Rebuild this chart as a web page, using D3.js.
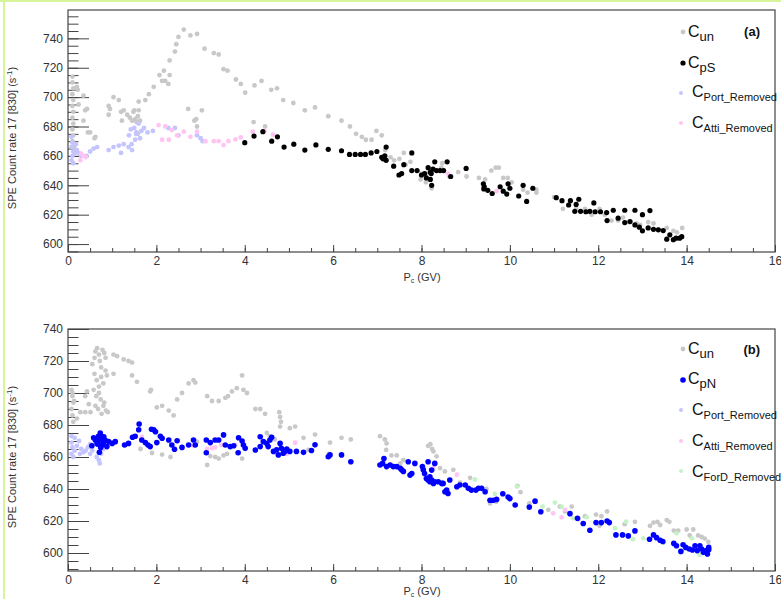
<!DOCTYPE html>
<html>
<head>
<meta charset="utf-8">
<script src="https://cdn.jsdelivr.net/npm/d3@7"></script>
<style>
  body { margin: 0; background: #fff; }
  svg { display: block; font-family: "Liberation Sans", Arial, sans-serif; }
</style>
</head>
<body>
<svg width="781" height="599"></svg>
<script>
// panel (a) : [Pc (GV), count rate]
const unA = [[0.1,714],[0.1,710],[0.12,706],[0.1,702],[0.12,698],[0.1,694],[0.12,690],[0.1,686],[0.12,682],[0.1,678],[0.12,674],[0.1,670],[0.14,666],
  [0.2,707],[0.22,705],[0.24,695],[0.35,701],[0.39,691],[0.43,692],[0.35,684],[0.45,676],[0.5,676],[0.6,672],[0.62,673],
  [0.92,694],[0.95,692],[0.92,688],[1.03,700],[1.15,698],[1.2,690],[1.26,691],[1.22,684],
  [1.34,688],[1.4,686],[1.45,684],[1.48,690],[1.52,685],[1.55,683],[1.58,687],[1.6,691],[1.6,697],[1.5,691],[1.63,684],[1.58,675],
  [1.75,698],[1.83,702],[1.94,707],[2.07,715],[2.17,718],[2.13,711],[2.2,711],[2.27,709],[2.3,715],[2.3,725],[2.42,731],[2.45,736],[2.5,741],[2.62,746],[2.77,742],[2.92,743],[3.09,733],[3.3,730],[3.41,729],[3.52,719],[3.61,718],[3.8,712],[3.91,709],[4.01,703],[4.22,708],[4.38,711],
  [2.72,692],[3.03,691],[2.9,685],[2.86,684],[2.92,680],[4.2,683],[4.46,680],
  [4.6,705],[4.73,706],[4.87,698],[5.1,696],[5.36,691],[5.59,693],[5.89,687],[6.19,684],[6.38,680],[6.52,675],[6.65,673],[6.74,671],[6.87,671],[6.98,677],[7.1,674],[7.18,664],[7.3,659],[7.38,657],[7.5,658],[7.6,662],[7.75,656],[7.64,654],[7.98,644],[8.1,642],[8.23,638],[8.0,648],[8.12,648],[8.45,652],[8.47,655],[8.63,646],[8.83,649],[9.02,646],[9.3,645],[9.44,644],[9.58,650],[9.68,652],[9.75,652],[9.85,645],[9.95,645],
  [10.04,642],[10.3,637],[10.4,635],[10.6,637],[10.6,635],[11.0,632],[11.2,624],[11.5,624],[11.7,624],[11.85,620],[12.03,624],[12.15,620],[12.3,616],[12.45,616],[12.56,618],[12.68,615],[12.87,614],[12.95,613],[13.13,615],[13.25,614],[13.36,610],[13.55,611],[13.7,609],[13.78,608],[13.9,611]];
const pSA = [[4.0,669],[4.21,673.5],[4.41,676.5],[4.61,670],[4.74,673],[4.89,666],[5.11,668],[5.36,664],[5.61,667.5],[5.89,664.5],[6.19,663.5],[6.37,661],[6.5,661],[6.62,661],[6.73,661],[6.86,662],[6.99,663],[7.2,666],[7.1,659],[7.13,658],[7.2,657],[7.17,660],[7.37,653],[7.49,647],[7.6,654],[7.55,648],[7.78,662],[7.78,650],[7.9,650],
  [8.0,647],[8.07,648],[8.11,645],[8.15,652],[8.2,649],[8.22,648],[8.26,651],[8.3,656],[8.34,650],[8.42,650],[8.5,650],[8.58,656],[8.66,646],[8.2,644],[8.23,640],[9.01,651.5],
  [9.4,641],[9.42,639],[9.41,637.5],[9.5,636.6],[9.6,634.4],[9.78,639],[9.85,636],[9.93,634],[9.96,641],[10.0,638],
  [10.2,632.7],[10.3,640],[10.38,629],[10.52,638],[11.05,631.6],[11.18,629.5],[11.37,629.5],[11.33,626.6],[11.5,627],[11.56,630.5],[11.47,622.3],[11.6,622.3],[11.72,622],[11.81,622.3],[11.93,622],[12.05,622],[12.19,621.4],[11.9,628],
  [12.2,616],[12.34,623],[12.45,617.6],[12.6,614.6],[12.6,623],[12.72,615.3],[12.83,623],[12.83,613],[13.0,620],[12.93,611.5],[13.0,609],[13.17,622.8],[13.13,611],[13.25,610],[13.36,609.7],[13.47,609.2],[13.55,603.3],[13.62,606.3],[13.7,603],[13.76,604],[13.84,604],[13.89,605]];
const portA = [[0.08,673],[0.1,669],[0.08,666],[0.12,663],[0.1,660],[0.08,657],[0.12,655],[0.15,662],[0.2,664],[0.18,668],
  [0.24,662],[0.3,660],[0.42,660],[0.5,663],[0.58,665],[0.66,666],
  [0.92,664],[1.03,666],[1.15,667],[1.2,662],[1.26,668],[1.37,666],[1.44,668],[1.45,664],[1.52,671],[1.55,676],[1.6,682],[1.63,672],[1.66,677],[1.72,679],[1.8,676],[1.42,678],[1.5,679],[1.54,675],[1.38,674],[1.92,677],[2.27,679],[2.42,679],[2.5,674],[2.92,674],[3.0,672],[3.05,670]];
const attiA = [[0.3,661.5],[0.35,660],[0.28,657],[0.4,659],[2.05,681],[2.2,680],[2.13,671],[2.28,671],[2.35,677.6],[2.47,674],[2.62,676.5],[2.77,673],[2.92,676.5],[3.11,670],[3.3,670],[3.41,670],[3.52,667.4],[3.63,670],[3.79,671.3],[3.91,672.6],[4.18,676.5],[4.45,677],[4.64,674.5],[8.6,648],[9.7,636]];

// panel (b)
const unB = [[0.08,702],[0.1,698],[0.12,694],[0.08,690],[0.1,686],[0.12,682],[0.14,695],[0.1,700],
  [0.2,684],[0.28,688],[0.39,698],[0.43,701],[0.47,693],[0.51,688],[0.39,688],
  [0.55,718],[0.6,722],[0.62,726],[0.66,728],[0.7,724],[0.72,720],[0.75,716],[0.78,727],[0.82,725],[0.85,722],[0.6,712],[0.65,708],[0.7,704],[0.75,710],[0.8,706],[0.85,714],[0.88,711],[0.58,702],[0.64,698],[0.7,700],[0.74,696],[0.8,692],[0.86,689],[0.9,688],[0.62,692],[0.68,690],[0.76,687],[0.82,694],
  [1.03,724],[1.11,723],[1.26,721],[1.37,720],[1.45,719],[1.03,712],[1.45,711],[1.56,707],[1.86,701],[1.88,702],[2.01,691],[2.13,692],[2.28,689],[2.39,686],[2.32,660],[1.9,662.5],[2.13,661.5],[1.64,665],[2.47,696],[2.58,700],[2.73,706],[2.84,708],[2.88,706.5],[2.92,669.6],
  [3.15,698],[3.26,695],[3.41,695],[3.56,697],[3.62,698],[3.71,701],[3.82,703],[3.94,711],[3.97,702],[4.05,700],[3.15,655],[3.22,660.6],[3.33,660],[3.41,659],[3.52,661],[3.6,662],[3.94,659],[3.86,662.5],[4.24,690],[4.35,690],
  [4.46,687],[4.78,688],[4.8,685],[4.82,682],[4.8,679],[4.5,675],[4.57,673],[4.68,671],[5.02,678],[5.14,679],[5.33,672],[5.59,674],[5.44,664.5],[5.93,669],[6.19,672],[6.4,671],[5.9,662],
  [7.06,673],[7.17,671],[7.21,668.5],[7.2,664.4],[7.32,661],[7.44,661],[7.52,656],[7.59,658],
  [8.04,653],[8.15,667],[8.2,668],[8.24,665],[8.27,663.5],[8.34,660.4],[8.42,653],[8.53,651],[8.72,652],[8.87,644],[9.1,647],
  [9.47,640],[9.55,631],[9.69,632],
  [10.17,642],[10.24,638],[10.44,631],[10.87,627],[11.13,629],[11.25,626],[11.4,629],[11.55,621],[11.7,623],[11.95,624],[12.03,617],[12.07,623],[12.2,626],[12.6,618],[12.83,619.5],[13.17,617],[13.25,619],[13.34,619.5],[13.4,617.5],[13.55,620.6],[13.61,619.5],[13.71,614],[13.81,614],[14.0,614.7],[14.07,611],[14.15,614.7],[14.26,611],[14.34,610],[14.41,609],[14.49,607]];
const pNB = [[0.54,667],[0.58,672],[0.66,668.5],[0.69,673],[0.73,675],[0.75,670.6],[0.78,667.5],[0.81,672.7],[0.84,670.6],[0.71,663],[0.62,670.6],[0.88,666.5],[0.92,669.6],[1.0,668.5],[1.07,669.6],[0.7,671],[0.76,673],[0.8,669],[0.74,666],[0.68,668],
  [1.28,667.5],[1.37,668.5],[1.46,672.3],[1.52,673],[1.6,677],[1.61,680.6],[1.67,670.6],[1.75,669],[1.81,667.5],[1.89,677.3],[1.94,677],[1.86,666.5],[1.98,675.8],[2.01,669],[2.09,673],[2.13,671.7],[2.28,670.6],[2.35,667.5],[2.41,664.8],[2.47,670.2],[2.58,666],[2.73,667.5],[2.84,670.6],[2.88,667.5],
  [3.13,670.6],[3.13,662.7],[3.22,669],[3.33,670.6],[3.41,670.6],[3.52,673.8],[3.56,667.5],[3.67,666.5],[3.75,667],[3.85,662.7],[3.86,672],[3.94,670],[3.97,667.5],[4.01,665.4],[4.24,664.4],[4.35,672.7],[4.35,666.5],
  [4.42,669.6],[4.5,668.5],[4.53,666.5],[4.57,670.6],[4.61,672.3],[4.65,663.5],[4.72,664.5],[4.76,661.3],[4.8,668.5],[4.83,665.4],[4.87,662.3],[4.91,663.5],[4.95,664.9],[5.02,663.5],[5.17,663.5],[5.33,662.9],[5.51,664.1],[5.59,667.6],[5.89,660.2],[5.93,661.3],[6.19,661.3],[6.4,657],
  [7.06,655],[7.12,656],[7.15,659],[7.21,654],[7.29,655],[7.36,654],[7.44,654],[7.52,653],[7.55,652],[7.59,651],[7.7,657],[7.74,648.7],[7.78,649.7],[7.85,656],[8.02,654],[8.04,652],[8.15,657],[8.3,656],
  [8.07,649.7],[8.11,646.6],[8.15,645.6],[8.19,644.5],[8.23,651.8],[8.19,647.7],[8.23,645.6],[8.27,643.5],[8.3,644.5],[8.38,644.5],[8.46,643.5],[8.49,643.5],[8.53,638.3],[8.57,639.3],[8.6,637.2],[8.64,645.6],
  [8.8,641.4],[8.87,642.5],[8.99,642.5],[9.06,640.4],[9.13,639.3],[9.23,639.3],[9.29,640.4],[9.36,640.4],[9.44,638.3],[9.55,633],
  [9.62,633],[9.7,633.5],[9.84,637],[9.96,635],[10.0,634],[10.12,630],[10.44,628.7],[10.57,632.4],[10.7,625.8],
  [11.36,624.6],[11.53,621.7],[11.66,618.4],[11.81,614.2],[11.95,619],[12.07,619],[12.2,620],[12.25,619],[12.4,611.3],[12.55,611.3],[12.68,610.7],[12.83,613.8],[13.16,608.6],[13.25,611.3],[13.32,609.6],[13.4,608],[13.46,607.2],[13.71,606],[13.77,604.5],[13.87,601],[13.92,605.2],[13.98,603.5],[14.06,602.5],[14.13,601.9],[14.19,604.5],[14.24,601.5],[14.3,604.5],[14.34,602.5],[14.38,600.4],[14.44,601.5],[14.47,599.4],[14.5,602],[14.5,603.5]];
const portB = [[0.08,673],[0.08,669],[0.1,666],[0.08,662],[0.12,660],[0.15,664],[0.2,667],[0.27,662],[0.3,665],[0.35,663],[0.4,664],[0.45,666],[0.5,662],[0.55,664],[0.6,668],[0.65,660],[0.7,658],[0.72,656],[0.75,662],[0.8,665],[0.62,671],[0.5,668],[0.25,670],[0.15,672]];
const attiB = [[1.67,672.5],[2.13,671.7],[2.84,667],[3.15,665],[3.26,665.5],[3.33,666],[3.47,667.5],[3.79,667.5],[4.95,661.9],[5.14,668.9],[8.27,653],[8.8,648.9],[10.98,624.8],[11.17,622.3],[11.25,627]];
const fordB = [[9.21,646],[9.66,636.9],[10.16,641.5],[10.74,629],[11.02,631.5],[11.17,629],[11.43,621.7],[11.74,622.4],[12.38,615.5],[12.63,619.6],[12.79,608.6],[13.02,609.2],[13.49,606.5],[13.77,612.3],[14.12,609.2],[14.3,598.8]];

const xTicks = d3.range(0, 17, 2);
const xMinor = d3.range(0, 16.01, 0.5);

const svg = d3.select("svg");

// bordure verte
svg.append("line").attr("x1", 4).attr("x2", 4).attr("y1", 0).attr("y2", 599)
  .attr("stroke", "#d6f59a").attr("stroke-width", 2);
svg.append("line").attr("x1", 0).attr("x2", 781).attr("y1", 1).attr("y2", 1)
  .attr("stroke", "#d6f59a").attr("stroke-width", 2);

const x = d3.scaleLinear().domain([0, 16]).range([68, 775]);

function panel(p) {
  const y = d3.scaleLinear().domain(p.yDomain).range([p.bottom, p.top]);
  const g = svg.append("g");

  // ticks mineurs
  g.append("g").attr("transform", "translate(68,0)")
    .call(d3.axisLeft(y).tickValues(p.yMinor).tickSize(-10.5).tickFormat(""));
  g.append("g").attr("transform", `translate(0,${p.bottom})`)
    .call(d3.axisBottom(x).tickValues(xMinor).tickSize(-4).tickFormat(""));
  // ticks majeurs
  g.append("g").attr("transform", "translate(68,0)")
    .call(d3.axisLeft(y).tickValues(p.yTicks).tickSize(-21).tickPadding(5));
  g.append("g").attr("transform", `translate(0,${p.bottom})`)
    .call(d3.axisBottom(x).tickValues(xTicks).tickSize(-7).tickPadding(4));

  g.selectAll(".domain").remove();
  g.selectAll(".tick line").attr("stroke", "#444");
  g.selectAll(".tick text").attr("font-size", 12).attr("fill", "#333")
    .attr("font-family", "Liberation Sans, Arial, sans-serif");

  g.append("rect").attr("x", 68).attr("y", p.top)
    .attr("width", 775 - 68).attr("height", p.bottom - p.top)
    .attr("fill", "none").attr("stroke", "#444").attr("stroke-width", 1.2);

  // points
  p.series.forEach(s => {
    g.append("g").selectAll("circle")
      .data(s.data).enter().append("circle")
      .attr("cx", d => x(d[0]))
      .attr("cy", d => y(d[1]))
      .attr("r", s.r)
      .attr("fill", s.color);
  });

  // titre axe y
  const yt = g.append("text")
    .attr("transform", `translate(16,${(p.top + p.bottom) / 2 + 7}) rotate(-90)`)
    .attr("text-anchor", "middle").attr("font-size", 11).attr("fill", "#333");
  yt.append("tspan").text("SPE Count rate 17 [830] (s");
  yt.append("tspan").attr("font-size", 8).attr("dy", -4).text("-1");
  yt.append("tspan").attr("dy", 4).text(")");

  // titre axe x
  const xt = g.append("text").attr("x", 422).attr("y", p.bottom + p.xTitleDy)
    .attr("text-anchor", "middle").attr("font-size", 11).attr("fill", "#333");
  xt.append("tspan").text("P");
  xt.append("tspan").attr("font-size", 7).attr("dy", 2).text("c");
  xt.append("tspan").attr("dy", -2).text(" (GV)");

  // légende
  p.legend.forEach(l => {
    g.append("circle").attr("cx", l.mx).attr("cy", l.my).attr("r", l.r).attr("fill", l.color);
    const t = g.append("text").attr("x", l.tx).attr("y", l.ty).attr("fill", "#111");
    t.append("tspan").attr("font-size", 16).text("C");
    t.append("tspan").attr("font-size", l.sub.length > 3 ? 11 : 13).attr("dy", 4).text(l.sub);
  });
  g.append("text").attr("x", 760).attr("y", p.labelY).attr("text-anchor", "end")
    .attr("font-size", 13).attr("font-weight", "bold").attr("fill", "#111").text(p.label);
}

panel({
  top: 10, bottom: 252, yDomain: [594.6, 759.3],
  yTicks: d3.range(600, 741, 20), yMinor: d3.range(595, 756, 5),
  xTitleDy: 29, label: "(a)", labelY: 36,
  series: [
    { data: unA, color: "#c8c8c8", r: 2.4 },
    { data: portA, color: "#c4c4ff", r: 2.4 },
    { data: attiA, color: "#ffc4f2", r: 2.4 },
    { data: pSA, color: "#000", r: 2.6 }
  ],
  legend: [
    { mx: 683, my: 32, r: 2.4, color: "#c8c8c8", tx: 688, ty: 37, sub: "un" },
    { mx: 683, my: 63, r: 2.6, color: "#000", tx: 688, ty: 68, sub: "pS" },
    { mx: 681, my: 93, r: 2, color: "#c4c4ff", tx: 692, ty: 97, sub: "Port_Removed" },
    { mx: 681, my: 123, r: 2, color: "#ffc4f2", tx: 692, ty: 128, sub: "Atti_Removed" }
  ]
});

panel({
  top: 329, bottom: 571, yDomain: [588.75, 740],
  yTicks: d3.range(600, 741, 20), yMinor: d3.range(590, 741, 5),
  xTitleDy: 24, label: "(b)", labelY: 354,
  series: [
    { data: unB, color: "#c8c8c8", r: 2.4 },
    { data: portB, color: "#c4c4ff", r: 2.4 },
    { data: attiB, color: "#ffc4f2", r: 2.4 },
    { data: fordB, color: "#c4f2c4", r: 2.4 },
    { data: pNB, color: "#0000ff", r: 2.8 }
  ],
  legend: [
    { mx: 683, my: 349, r: 2.4, color: "#c8c8c8", tx: 688, ty: 354, sub: "un" },
    { mx: 683, my: 380, r: 2.8, color: "#0000ff", tx: 688, ty: 384, sub: "pN" },
    { mx: 681, my: 410, r: 2, color: "#c4c4ff", tx: 692, ty: 415, sub: "Port_Removed" },
    { mx: 681, my: 441, r: 2, color: "#ffc4f2", tx: 692, ty: 446, sub: "Atti_Removed" },
    { mx: 681, my: 471, r: 2, color: "#c4f2c4", tx: 692, ty: 477, sub: "ForD_Removed" }
  ]
});
</script>
</body>
</html>
